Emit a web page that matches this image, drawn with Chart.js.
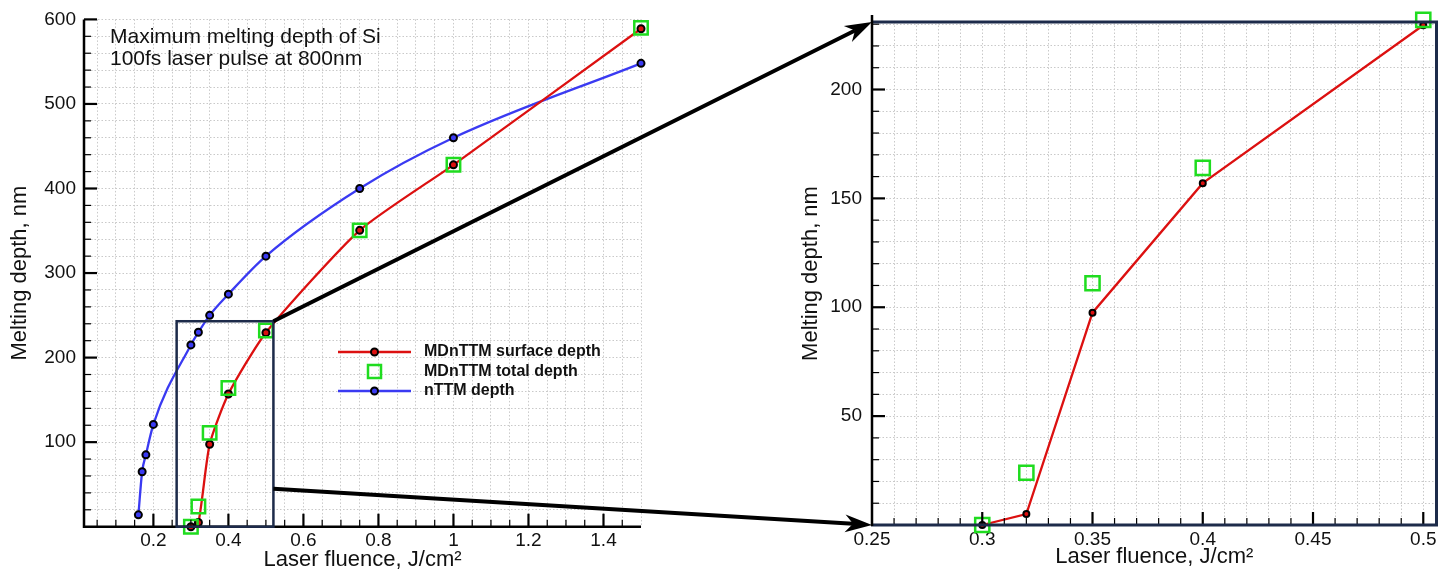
<!DOCTYPE html>
<html><head><meta charset="utf-8">
<script src="https://cdn.jsdelivr.net/npm/chart.js@4.4.1/dist/chart.umd.min.js"></script>
<style>
html,body{margin:0;padding:0;background:#fff;width:1449px;height:573px;overflow:hidden}
canvas{position:absolute;top:0}
#c1{left:0}
#c2{left:760px}
#ov{left:0;pointer-events:none}
</style></head><body>
<canvas id="c1" width="700" height="573"></canvas>
<canvas id="c2" width="689" height="573"></canvas>
<canvas id="ov" width="1449" height="573"></canvas>
<script>
// ---------- data ----------
const fluenceMD    = [0.30, 0.32, 0.35, 0.40, 0.50, 0.75, 1.00, 1.50];
const surfaceDepth = [0, 5, 97.5, 157, 229.5, 350.5, 428, 589];
const totalDepth   = [0, 24, 111, 164, 232, 350.5, 428, 590];
const fluenceTTM   = [0.16, 0.17, 0.18, 0.20, 0.30, 0.32, 0.35, 0.40, 0.50, 0.75, 1.00, 1.50];
const ttmDepth     = [14, 65, 85, 121, 215, 230, 250, 275, 320, 400, 460, 548];

const seriesNames  = ['MDnTTM surface depth', 'MDnTTM total depth', 'nTTM depth'];
const annotation   = ['Maximum melting depth of Si', '100fs laser pulse at 800nm'];
const xTitle       = 'Laser fluence, J/cm\u00B2';
const yTitle       = 'Melting depth, nm';

// tick labels
const leftXLabels  = [0.2, 0.4, 0.6, 0.8, 1, 1.2, 1.4];
const leftYLabels  = [100, 200, 300, 400, 500, 600];
const rightXLabels = [0.25, 0.3, 0.35, 0.4, 0.45, 0.5];
const rightYLabels = [50, 100, 150, 200];

// axis ranges
const leftXRange  = [0.015, 1.5];
const leftYRange  = [0, 600];
const rightXRange = [0.25, 0.506];
const rightYRange = [0, 231];
const leftXMinor = 0.05, leftYMinor = 20, rightXMinor = 0.01, rightYMinor = 10;

// zoom box drawn in left panel
const zoomBoxX = [0.262, 0.52];
const zoomBoxY = [0, 243];
const arrowFromY = [243, 45];

// ---------- style ----------
const FONT = '"Liberation Sans", Arial, Helvetica, sans-serif';
const RED = '#dc1010', BLUE = '#3a3af2', GREEN = '#1fdc1f', NAVY = '#1d2b4a';
Chart.defaults.font.family = FONT;
Chart.defaults.color = '#111';

const near = (a, b) => Math.abs(a - b) < 1e-7;
const fmt = v => String(parseFloat(v.toFixed(3)));
function gridValues(min, max, step) {
  const out = [];
  const start = Math.ceil(min / step - 1e-9);
  for (let k = start; k * step <= max + 1e-9; k++) out.push(parseFloat((k * step).toFixed(6)));
  if (!near(out[0], min)) out.unshift(min);
  if (!near(out[out.length - 1], max)) out.push(max);
  return out;
}
const pts = (xs, ys, xmax) => xs.map((x, i) => ({x, y: ys[i]})).filter(p => xmax === undefined || p.x <= xmax + 1e-9);

function makeScale(range, step, labels, fitSize, horizontal, titleCfg, labelPad, fontSize) {
  return {
    type: 'linear', min: range[0], max: range[1],
    afterBuildTicks: s => { s.ticks = gridValues(range[0], range[1], step).map(v => ({value: v})); },
    afterFit: s => { if (horizontal) s.height = fitSize; else s.width = fitSize; },
    ticks: {
      autoSkip: false, maxRotation: 0, minRotation: 0, padding: labelPad,
      font: {size: fontSize}, color: '#111',
      callback: v => labels.some(l => near(l, v)) ? fmt(v) : ''
    },
    grid: {color: '#c9c9c9', lineWidth: 1, drawTicks: false},
    border: {display: false, dash: [1.5, 2], color: '#000', width: 2.5},
    title: titleCfg
  };
}

// axes, inward ticks + decorations
const decoPlugin = {
  id: 'deco',
  afterDatasetsDraw(chart, args, o) {
    const {ctx, chartArea: a} = chart;
    const xs = chart.scales.x, ys = chart.scales.y;
    ctx.save();
    ctx.strokeStyle = '#000';
    xs.ticks.forEach(t => {
      const px = xs.getPixelForValue(t.value);
      if (px < a.left + 2 || px > a.right - 2) return;
      const major = o.xMajor.some(l => near(l, t.value));
      ctx.lineWidth = major ? 2.2 : 1.2;
      ctx.beginPath(); ctx.moveTo(px, a.bottom); ctx.lineTo(px, a.bottom - (major ? 13 : 7)); ctx.stroke();
    });
    ys.ticks.forEach(t => {
      const py = ys.getPixelForValue(t.value);
      if (py > a.bottom - 2 || py < a.top - 1) return;
      const major = o.yMajor.some(l => near(l, t.value));
      ctx.lineWidth = major ? 2.2 : 1.2;
      ctx.beginPath(); ctx.moveTo(a.left, py); ctx.lineTo(a.left + (major ? 13 : 7), py); ctx.stroke();
    });
    if (o.frame) {
      ctx.strokeStyle = NAVY; ctx.lineWidth = 3;
      ctx.beginPath();
      ctx.moveTo(a.left, a.top); ctx.lineTo(a.right, a.top); ctx.lineTo(a.right, a.bottom); ctx.lineTo(a.left - 1, a.bottom);
      ctx.stroke();
      ctx.strokeStyle = '#000'; ctx.lineWidth = 2.5;
      ctx.beginPath(); ctx.moveTo(a.left, a.top - 7); ctx.lineTo(a.left, a.bottom + 1); ctx.stroke();
    } else {
      ctx.strokeStyle = '#000'; ctx.lineWidth = 2.5;
      ctx.beginPath(); ctx.moveTo(a.left, a.top); ctx.lineTo(a.left, a.bottom); ctx.lineTo(a.right, a.bottom); ctx.stroke();
    }
    if (o.zoomBox) {
      const x1 = xs.getPixelForValue(zoomBoxX[0]), x2 = xs.getPixelForValue(zoomBoxX[1]);
      const y1 = ys.getPixelForValue(zoomBoxY[1]), y2 = ys.getPixelForValue(zoomBoxY[0]);
      ctx.strokeStyle = NAVY; ctx.lineWidth = 2.5;
      ctx.strokeRect(x1, y1, x2 - x1, y2 - y1);
    }
    if (o.legend) {
      const L = o.legend;
      chart.data.datasets.forEach((ds, i) => {
        const y = L.y + i * L.dy;
        if (ds.showLine) {
          ctx.strokeStyle = ds.borderColor; ctx.lineWidth = ds.borderWidth;
          ctx.beginPath(); ctx.moveTo(L.x, y); ctx.lineTo(L.x + L.w, y); ctx.stroke();
        }
        const cx = L.x + L.w / 2;
        ctx.lineWidth = ds.pointBorderWidth;
        ctx.strokeStyle = ds.pointBorderColor; ctx.fillStyle = ds.pointBackgroundColor;
        ctx.beginPath();
        if (ds.pointStyle === 'rect') {
          const h = 6.5; ctx.rect(cx - h, y - h, 2 * h, 2 * h);
        } else {
          ctx.arc(cx, y, ds.pointRadius, 0, Math.PI * 2); ctx.fill();
        }
        ctx.stroke();
        ctx.fillStyle = '#111'; ctx.font = 'bold 16px ' + FONT; ctx.textBaseline = 'middle'; ctx.textAlign = 'left';
        ctx.fillText(ds.label, L.x + L.w + 13, y);
      });
    }
    if (o.note) {
      ctx.fillStyle = '#111'; ctx.font = '21px ' + FONT; ctx.textBaseline = 'alphabetic'; ctx.textAlign = 'left';
      annotation.forEach((t, i) => ctx.fillText(t, o.note.x, o.note.y + i * o.note.dy));
    }
    ctx.restore();
  }
};

function datasets(xmax, small) {
  return [
    {label: seriesNames[0], data: pts(fluenceMD, surfaceDepth, xmax), showLine: true,
     borderColor: RED, borderWidth: 2.3, pointRadius: small ? 3 : 3.5, pointBorderWidth: 2,
     pointBackgroundColor: RED, pointBorderColor: '#000',
     cubicInterpolationMode: 'default', tension: small ? 0 : 0.2, clip: false, order: 2},
    {label: seriesNames[1], data: pts(fluenceMD, totalDepth, xmax), showLine: false,
     pointStyle: 'rect', pointRadius: small ? 10 : 9.5, pointBorderWidth: 2.5,
     pointBorderColor: GREEN, pointBackgroundColor: 'rgba(0,0,0,0)', clip: false, order: 1},
    {label: seriesNames[2], data: pts(fluenceTTM, ttmDepth, xmax), showLine: true,
     borderColor: BLUE, borderWidth: 2.3, pointRadius: 3.5, pointBorderWidth: 2,
     pointBackgroundColor: BLUE, pointBorderColor: '#000',
     cubicInterpolationMode: 'monotone', clip: false, order: 3}
  ];
}

const leftChart = new Chart(document.getElementById('c1'), {
  type: 'scatter',
  data: {datasets: datasets()},
  options: {
    responsive: false, animation: false, events: [],
    layout: {padding: {left: 0, right: 59, top: 19, bottom: 0}},
    plugins: {
      legend: {display: false}, tooltip: {enabled: false},
      deco: {xMajor: leftXLabels, yMajor: leftYLabels, zoomBox: true,
             legend: {x: 338, y: 352, dy: 19.5, w: 73}, note: {x: 110, y: 43, dy: 22}}
    },
    scales: {
      x: makeScale(leftXRange, leftXMinor, leftXLabels, 46.3, true,
        {display: true, text: xTitle, font: {size: 22}, color: '#111', padding: {top: 0, bottom: 0}}, 3, 19),
      y: makeScale(leftYRange, leftYMinor, leftYLabels, 84, false,
        {display: true, text: yTitle, font: {size: 22}, color: '#111', padding: {top: 7, bottom: 0}}, 8, 19)
    }
  },
  plugins: [decoPlugin]
});

const rightChart = new Chart(document.getElementById('c2'), {
  type: 'scatter',
  data: {datasets: datasets(rightXRange[1], true).slice(0, 2)},
  options: {
    responsive: false, animation: false, events: [],
    layout: {padding: {left: 0, right: 2, top: 22, bottom: 0}},
    plugins: {
      legend: {display: false}, tooltip: {enabled: false},
      deco: {xMajor: rightXLabels, yMajor: rightYLabels, frame: true}
    },
    scales: {
      x: makeScale(rightXRange, rightXMinor, rightXLabels, 48, true,
        {display: true, text: xTitle, font: {size: 22}, color: '#111', padding: {top: 0, bottom: 3}}, 3, 19),
      y: makeScale(rightYRange, rightYMinor, rightYLabels, 112, false,
        {display: true, text: yTitle, font: {size: 22}, color: '#111', padding: {top: 38, bottom: 0}}, 10, 19)
    }
  },
  plugins: [decoPlugin]
});

// ---------- zoom arrows (overlay) ----------
(function () {
  const ctx = document.getElementById('ov').getContext('2d');
  const off2 = 760;
  const lx = leftChart.scales.x, ly = leftChart.scales.y;
  const rx = rightChart.scales.x, ry = rightChart.scales.y;
  const ends = [
    [lx.getPixelForValue(zoomBoxX[1]), ly.getPixelForValue(arrowFromY[0]),
     off2 + rx.getPixelForValue(rightXRange[0]), ry.getPixelForValue(rightYRange[1])],
    [lx.getPixelForValue(zoomBoxX[1]), ly.getPixelForValue(arrowFromY[1]),
     off2 + rx.getPixelForValue(rightXRange[0]), ry.getPixelForValue(rightYRange[0])]
  ];
  ctx.fillStyle = '#000'; ctx.strokeStyle = '#000';
  ends.forEach(([x1, y1, x2, y2]) => {
    const ang = Math.atan2(y2 - y1, x2 - x1), c = Math.cos(ang), s = Math.sin(ang);
    const L = 27, W = 9, N = 8;
    ctx.lineWidth = 4; ctx.lineCap = 'butt';
    ctx.beginPath(); ctx.moveTo(x1, y1); ctx.lineTo(x2 - (L - N) * c, y2 - (L - N) * s); ctx.stroke();
    const bx = x2 - L * c, by = y2 - L * s;
    ctx.beginPath();
    ctx.moveTo(x2, y2);
    ctx.lineTo(bx - W * s, by + W * c);
    ctx.lineTo(x2 - (L - N) * c, y2 - (L - N) * s);
    ctx.lineTo(bx + W * s, by - W * c);
    ctx.closePath(); ctx.fill();
  });
})();
</script>
</body></html>
